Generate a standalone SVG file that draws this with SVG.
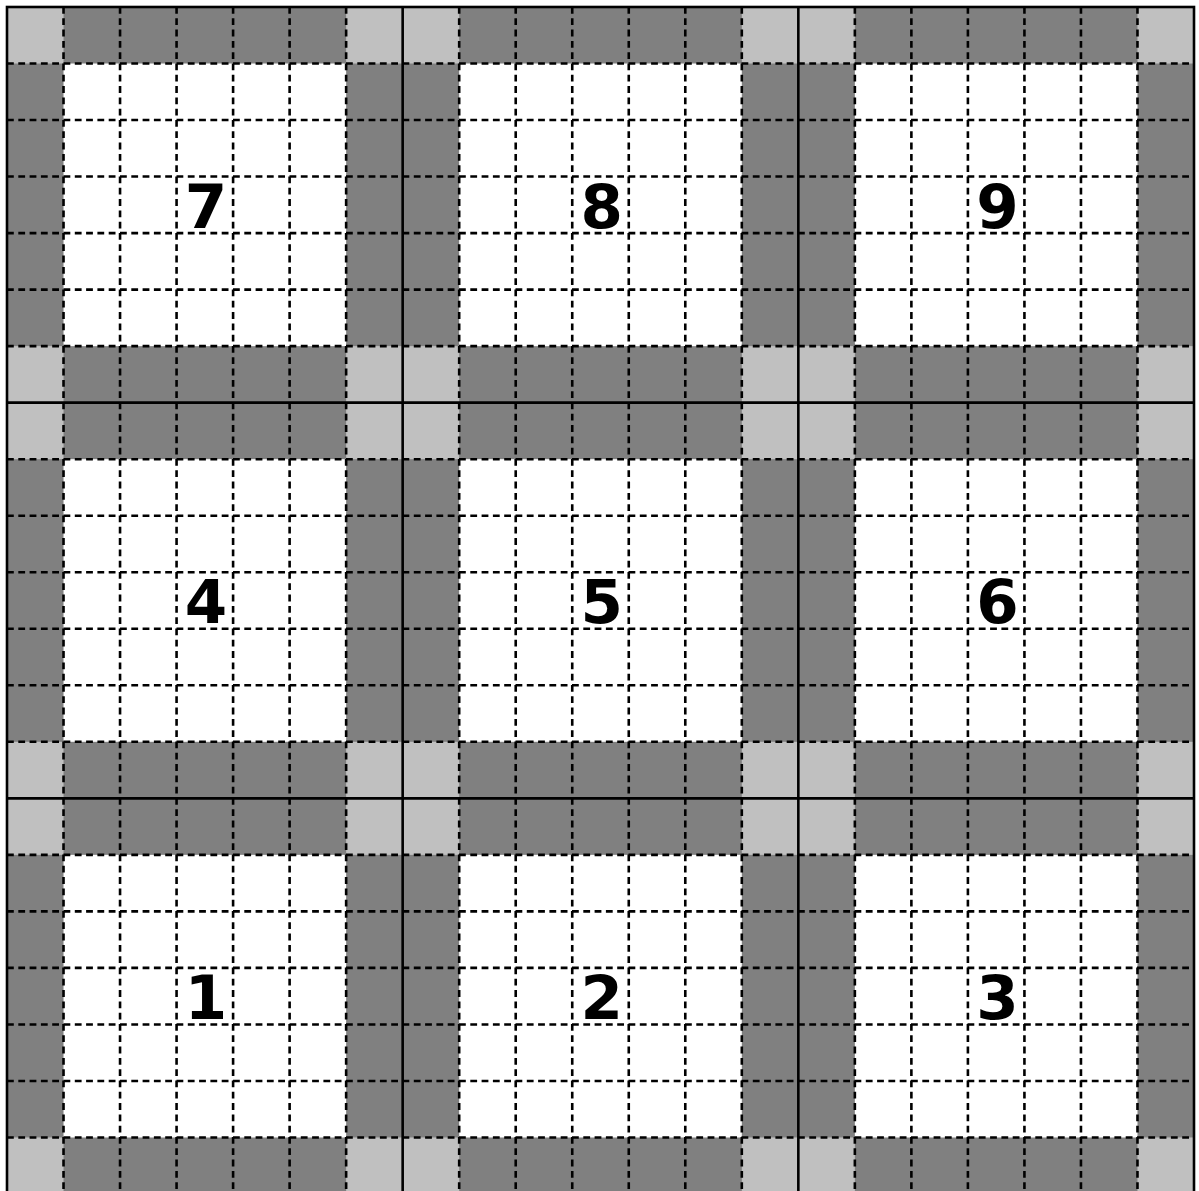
<svg xmlns="http://www.w3.org/2000/svg" xmlns:xlink="http://www.w3.org/1999/xlink" width="1199" height="1191" viewBox="0 0 1199 1191">
<style>
.dark{fill:#808080}
.light{fill:#c0c0c0}
.white{fill:#ffffff}
.dash{stroke:#000;stroke-width:2.6;stroke-dasharray:6.8,4.5;fill:none}
.solid{stroke:#000;stroke-width:2.6;fill:none}
.num{font-family:"DejaVu Sans",sans-serif;font-weight:bold;font-size:61px;text-anchor:middle;fill:#000}
</style>
<defs>
<g id="block">
<rect class="dark" x="0" y="0" width="395.667" height="395.667"/>
<rect class="white" x="56.524" y="56.524" width="282.619" height="282.619"/>
<rect class="light" x="0" y="0" width="56.524" height="56.524"/>
<rect class="light" x="339.143" y="0" width="56.524" height="56.524"/>
<rect class="light" x="0" y="339.143" width="56.524" height="56.524"/>
<rect class="light" x="339.143" y="339.143" width="56.524" height="56.524"/>
</g>
</defs>
<rect x="0" y="0" width="1199" height="1191" fill="#ffffff"/>
<g id="block7"><use xlink:href="#block" x="7" y="7"/><text class="num" x="206" y="227.5">7</text></g>
<g id="block8"><use xlink:href="#block" x="402.667" y="7"/><text class="num" x="601.7" y="227.5">8</text></g>
<g id="block9"><use xlink:href="#block" x="798.333" y="7"/><text class="num" x="997.4" y="227.5">9</text></g>
<g id="block4"><use xlink:href="#block" x="7" y="402.667"/><text class="num" x="206" y="623.2">4</text></g>
<g id="block5"><use xlink:href="#block" x="402.667" y="402.667"/><text class="num" x="601.7" y="623.2">5</text></g>
<g id="block6"><use xlink:href="#block" x="798.333" y="402.667"/><text class="num" x="997.4" y="623.2">6</text></g>
<g id="block1"><use xlink:href="#block" x="7" y="798.333"/><text class="num" x="206" y="1018.8">1</text></g>
<g id="block2"><use xlink:href="#block" x="402.667" y="798.333"/><text class="num" x="601.7" y="1018.8">2</text></g>
<g id="block3"><use xlink:href="#block" x="798.333" y="798.333"/><text class="num" x="997.4" y="1018.8">3</text></g>
<g id="grid-lines">
<path class="dash" d="M63.524 7V1194M120.048 7V1194M176.571 7V1194M233.095 7V1194M289.619 7V1194M346.143 7V1194M459.19 7V1194M515.714 7V1194M572.238 7V1194M628.762 7V1194M685.286 7V1194M741.81 7V1194M854.857 7V1194M911.381 7V1194M967.905 7V1194M1024.429 7V1194M1080.952 7V1194M1137.476 7V1194"/>
<path class="dash" d="M7 63.524H1194M7 120.048H1194M7 176.571H1194M7 233.095H1194M7 289.619H1194M7 346.143H1194M7 459.19H1194M7 515.714H1194M7 572.238H1194M7 628.762H1194M7 685.286H1194M7 741.81H1194M7 854.857H1194M7 911.381H1194M7 967.905H1194M7 1024.429H1194M7 1080.952H1194M7 1137.476H1194"/>
<path class="solid" d="M402.667 7V1194M798.333 7V1194M7 402.667H1194M7 798.333H1194"/>
<rect class="solid" x="7" y="7" width="1187" height="1187"/>
</g>
</svg>
